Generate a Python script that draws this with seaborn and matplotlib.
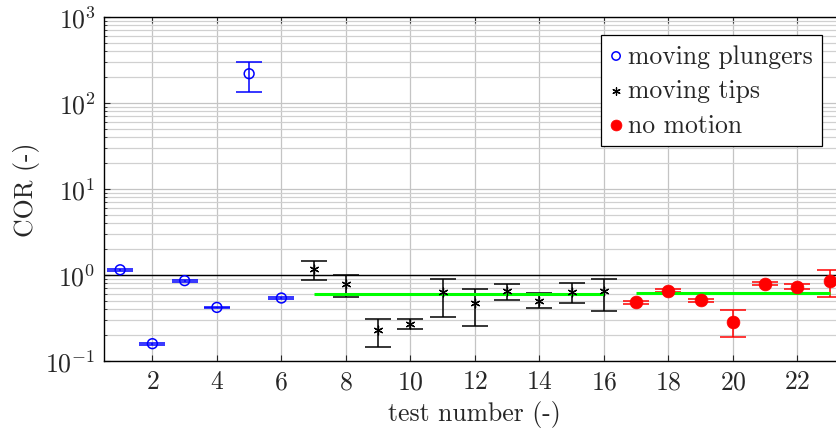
import numpy as np
import pandas as pd
import matplotlib
matplotlib.use("Agg")
import matplotlib.pyplot as plt
import seaborn as sns

# ---- data ----
x_plungers = [1, 2, 3, 4, 5, 6]
cor_plungers = [1.15, 0.159, 0.86, 0.42, 219, 0.54]
lo_plungers = [1.11, 0.155, 0.84, 0.41, 133, 0.53]
hi_plungers = [1.19, 0.163, 0.88, 0.43, 302, 0.55]

x_tips = [7, 8, 9, 10, 11, 12, 13, 14, 15, 16]
cor_tips = [1.17, 0.79, 0.23, 0.27, 0.63, 0.47, 0.65, 0.50, 0.63, 0.65]
lo_tips = [0.87, 0.555, 0.144, 0.235, 0.325, 0.257, 0.51, 0.41, 0.47, 0.38]
hi_tips = [1.47, 1.0, 0.31, 0.31, 0.91, 0.68, 0.78, 0.61, 0.80, 0.91]

x_still = [17, 18, 19, 20, 21, 22, 23]
cor_still = [0.48, 0.66, 0.51, 0.286, 0.79, 0.73, 0.85]
lo_still = [0.46, 0.63, 0.49, 0.19, 0.76, 0.68, 0.55]
hi_still = [0.50, 0.69, 0.53, 0.39, 0.82, 0.79, 1.13]

labels = ["moving plungers", "moving tips", "no motion"]
xticks = [2, 4, 6, 8, 10, 12, 14, 16, 18, 20, 22]

sns.set_style("ticks")
plt.rcParams["font.family"] = ["cmr10", "DejaVu Serif"]
plt.rcParams["mathtext.fontset"] = "cm"
plt.rcParams["axes.formatter.use_mathtext"] = True
plt.rcParams["axes.unicode_minus"] = True

FS = 18.5
W, H = 837, 435
fig = plt.figure(figsize=(W / 100, H / 100), dpi=100)
left, bottom, top = 104, 73, 18
pxu = 32.25
xmin, xmax = 0.5, 23.5
ax = fig.add_axes([left / W, bottom / H, (xmax - xmin) * pxu / W, (H - top - bottom) / H])

ax.set_yscale("log")
ax.set_ylim(0.1, 1000)
ax.set_xlim(xmin, xmax)

# grid
ax.grid(True, which="major", axis="both", color="#c4c4c4", lw=0.9, zorder=0)
ax.grid(True, which="minor", axis="y", color="#d0d0d0", lw=0.9, zorder=0)
ax.set_axisbelow(True)

# reference line at 1
ax.axhline(1.0, color="black", lw=1.0, zorder=2)

groups = [
    (x_plungers, cor_plungers, lo_plungers, hi_plungers, "blue"),
    (x_tips, cor_tips, lo_tips, hi_tips, "black"),
    (x_still, cor_still, lo_still, hi_still, "red"),
]
for xs, ys, lo, hi, col in groups:
    ys = np.array(ys); lo = np.array(lo); hi = np.array(hi)
    ax.errorbar(xs, ys, yerr=[ys - lo, hi - ys], fmt="none", ecolor=col,
                elinewidth=1.1, capsize=9.5, capthick=1.1, zorder=3)

# mean lines
ax.hlines(np.mean(cor_tips), x_tips[0], x_tips[-1], color="#00ff00", lw=2.2, zorder=4)
ax.hlines(np.mean(cor_still), x_still[0], x_still[-1], color="#00ff00", lw=2.2, zorder=4)

df1 = pd.DataFrame({"x": x_plungers, "y": cor_plungers})
df2 = pd.DataFrame({"x": x_tips, "y": cor_tips})
df3 = pd.DataFrame({"x": x_still, "y": cor_still})
sns.scatterplot(data=df1, x="x", y="y", ax=ax, marker="o", s=50,
                facecolors="none", edgecolors="blue", linewidth=1.1,
                label=labels[0], zorder=5)
sns.scatterplot(data=df2, x="x", y="y", ax=ax, marker=(6, 2, 0), s=40,
                color="black", edgecolors="black", linewidth=0.9,
                label=labels[1], zorder=5)
sns.scatterplot(data=df3, x="x", y="y", ax=ax, marker="o", s=85,
                color="red", edgecolors="red", linewidth=0.5,
                label=labels[2], zorder=5)

ax.set_xticks(xticks)
ax.tick_params(axis="both", which="both", direction="in", labelsize=FS)
ax.tick_params(axis="both", which="major", length=4, width=0.8, pad=6)
ax.tick_params(axis="y", which="minor", length=2.5, width=0.6)
ax.tick_params(top=True, right=True, which="both")
for s in ax.spines.values():
    s.set_color("black"); s.set_linewidth(1.0)

ax.set_xlabel("test number (-)", fontsize=FS, labelpad=5)
ax.set_ylabel("COR (-)", fontsize=FS, labelpad=4)

leg = ax.legend(loc="upper right", bbox_to_anchor=(822 / W, 1 - 36 / H),
                bbox_transform=fig.transFigure, borderaxespad=0,
                fontsize=FS, handlelength=0.45, handletextpad=0.25,
                borderpad=0.35, labelspacing=0.42, fancybox=False,
                framealpha=1, edgecolor="black", markerscale=0.85)
leg.get_frame().set_linewidth(0.9)

fig.savefig("out.png", dpi=100)
